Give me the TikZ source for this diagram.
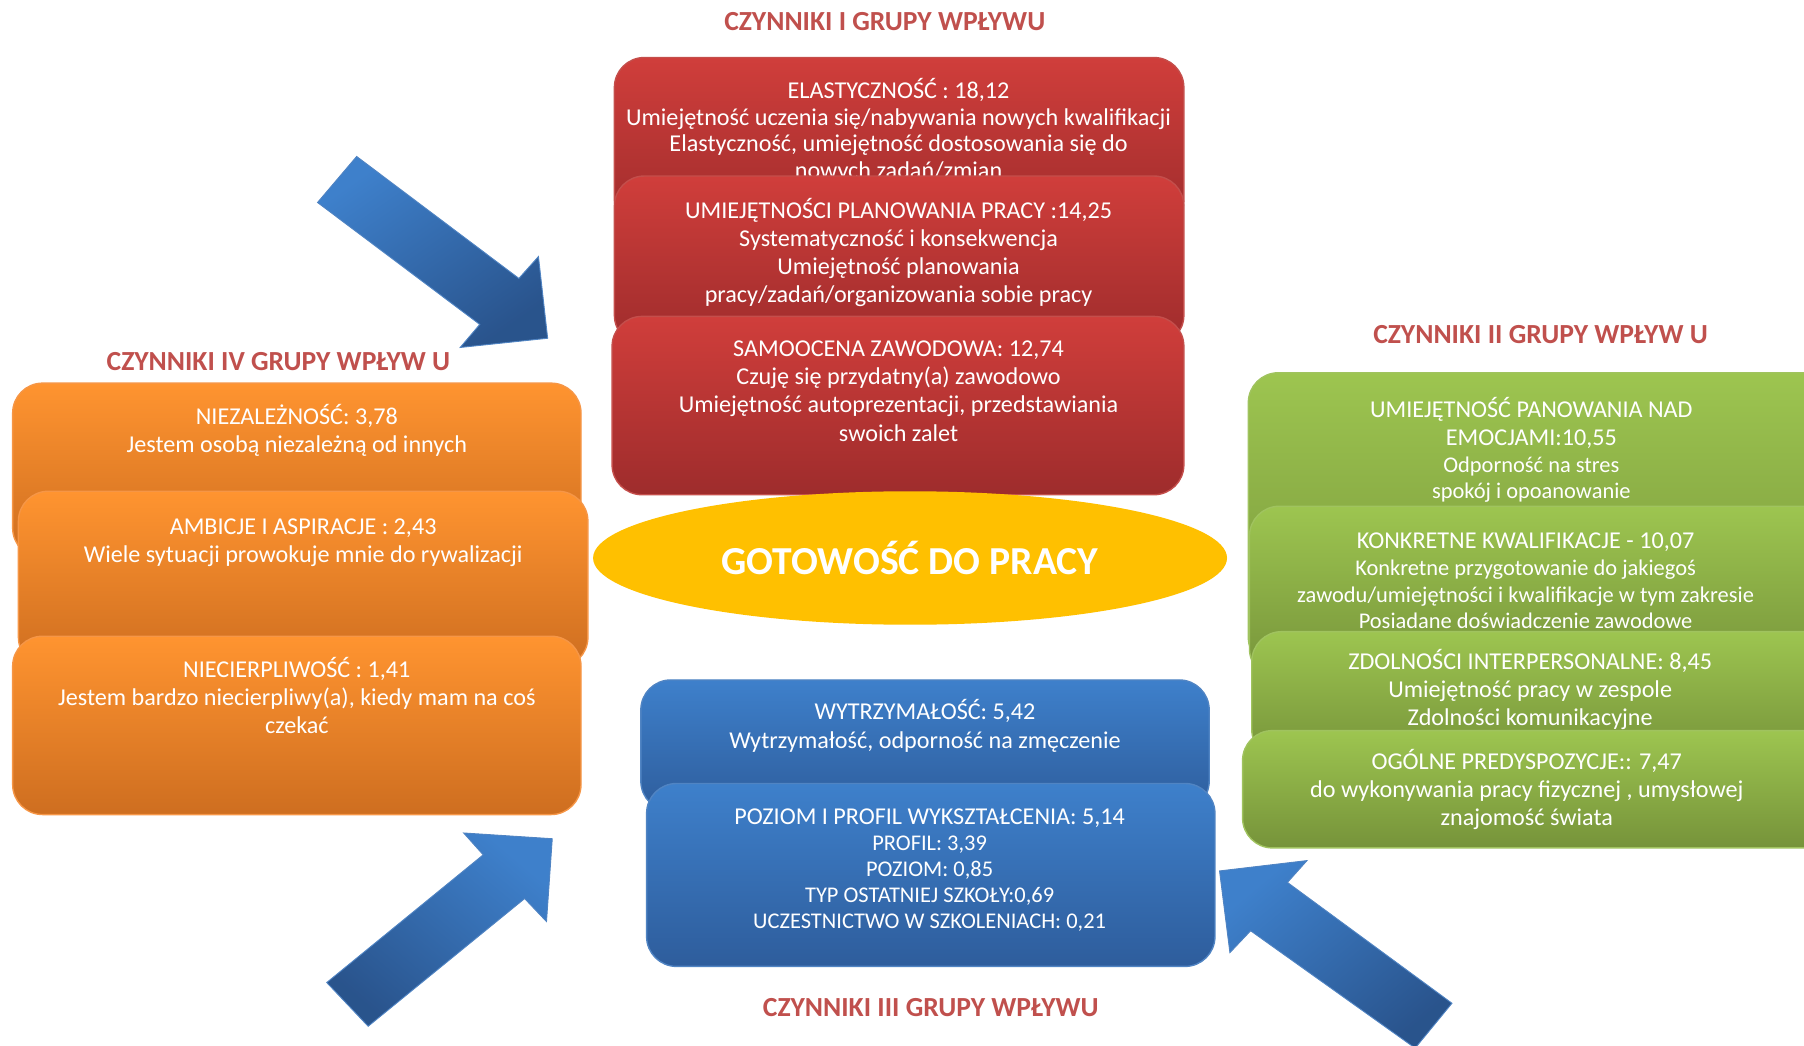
\documentclass[tikz,border=0pt]{standalone}
\usepackage{fontspec}
\setmainfont{Carlito}
\usetikzlibrary{shapes.geometric}
\definecolor{ttl}{RGB}{192,80,77}
\definecolor{redtop}{RGB}{208,62,59}
\definecolor{redbot}{RGB}{158,44,44}
\definecolor{redline}{RGB}{196,78,75}
\definecolor{ortop}{RGB}{255,148,48}
\definecolor{orbot}{RGB}{206,110,32}
\definecolor{orline}{RGB}{246,150,70}
\definecolor{grtop}{RGB}{157,197,80}
\definecolor{grbot}{RGB}{118,147,58}
\definecolor{grline}{RGB}{160,195,95}
\definecolor{bltop}{RGB}{62,128,203}
\definecolor{blbot}{RGB}{46,93,156}
\definecolor{blline}{RGB}{80,132,195}
\definecolor{goal}{RGB}{255,192,0}
\newcommand{\sm}{\fontsize{19.5}{22.5}\selectfont}
\begin{document}
\begin{tikzpicture}[x=1pt,y=-1pt]
\tikzset{box/.style={line width=1.2pt,rounded corners=26pt},
         redbox/.style={box,draw=redline,top color=redtop,bottom color=redbot},
         orbox/.style={box,draw=orline,top color=ortop,bottom color=orbot},
         grbox/.style={box,draw=grline,top color=grtop,bottom color=grbot},
         blbox/.style={box,draw=blline,top color=bltop,bottom color=blbot},
         txt/.style={text=white,align=center,anchor=north,inner sep=0pt,
                     font=\fontsize{21}{24.5}\selectfont,execute at begin node=\strut},
         grouptitle/.style={text=ttl,inner sep=0pt,font=\bfseries\fontsize{24}{26}\selectfont},
         blockarrow/.style={draw=blline,line width=0.8pt,top color=bltop,bottom color=blbot!90!black}}
\useasboundingbox (0,0) rectangle (1568,909);
\clip (0,0) rectangle (1568,909);

% the four arrows pointing at the centre
\draw[blockarrow,shading angle=35] (310,136) -- (451,242) -- (468,223) -- (476,294) -- (400,302) -- (417,282) -- (276,176) -- cycle;
\draw[blockarrow,shading angle=-40] (284,854) -- (420,743) -- (403,724) -- (480,729) -- (475,801) -- (456,781) -- (320,892) -- cycle;
\draw[blockarrow,shading angle=40] (1060,757) -- (1136,748) -- (1119,767) -- (1262,872) -- (1230,911) -- (1087,809) -- (1069,828) -- cycle;

% group titles
\node[grouptitle] (t1) at (769,19) {CZYNNIKI I GRUPY WPŁYWU};
\node[grouptitle] (t2) at (1339,291) {CZYNNIKI II GRUPY WPŁYW U};
\node[grouptitle] (t3) at (809,876) {CZYNNIKI III GRUPY WPŁYWU};
\node[grouptitle] (t4) at (242,314) {CZYNNIKI IV GRUPY WPŁYW U};

% group I, red
\foreach \xa/\xb/\ya/\yb/\yt [count=\i] in {534/1029/50/200/68, 534/1029/153/300/172, 532/1029/275/430/296}
{
    \draw[redbox] (\xa,\ya) rectangle (\xb,\yb);
    \ifcase\i\or
      \node[txt] (red\i) at (781,\yt) {ELASTYCZNOŚĆ : 18,12\\[-1.5pt]Umiejętność uczenia się/nabywania nowych kwalifikacji\\[-1.5pt]Elastyczność, umiejętność dostosowania się do\\[-1.5pt]nowych zadań/zmian};
    \or
      \node[txt] (red\i) at (781,\yt) {UMIEJĘTNOŚCI PLANOWANIA PRACY :14,25\\Systematyczność i konsekwencja\\Umiejętność planowania\\pracy/zadań/organizowania sobie pracy};
    \or
      \node[txt] (red\i) at (781,\yt) {SAMOOCENA ZAWODOWA: 12,74\\Czuję się przydatny(a) zawodowo\\Umiejętność autoprezentacji, przedstawiania\\swoich zalet};
    \fi
}

% group IV, orange
\foreach \xa/\xb/\ya/\yb/\yt/\txt [count=\i] in {
    11/505/333/485/351/{NIEZALEŻNOŚĆ: 3,78\\Jestem osobą niezależną od innych},
    16/511/427/580/451/{AMBICJE I ASPIRACJE : 2,43\\Wiele sytuacji prowokuje mnie do rywalizacji},
    11/505/553/708/571/{NIECIERPLIWOŚĆ : 1,41\\Jestem bardzo niecierpliwy(a), kiedy mam na coś\\czekać}}
{
    \draw[orbox] (\xa,\ya) rectangle (\xb,\yb);
    \node[txt] (or\i) at ({(\xa+\xb)/2},\yt) {\txt};
}

% group II, green
\draw[grbox] (1085,324) rectangle (1600,580);
\node[txt] (gr1) at (1331,345) {UMIEJĘTNOŚĆ PANOWANIA NAD\\EMOCJAMI:10,55\\[-1pt]\sm Odporność na stres\\[-2pt]\sm spokój i opoanowanie};
\draw[grbox] (1086,440) rectangle (1600,590);
\node[txt] (gr2) at (1326,463) {KONKRETNE KWALIFIKACJE - 10,07\\[-1pt]\sm Konkretne przygotowanie do jakiegoś\\[-1.5pt]\sm zawodu/umiejętności i kwalifikacje w tym zakresie\\[-1.5pt]\sm Posiadane doświadczenie zawodowe};
\draw[grbox] (1088,549) rectangle (1600,660);
\node[txt] (gr3) at (1330,564) {ZDOLNOŚCI INTERPERSONALNE: 8,45\\Umiejętność pracy w zespole\\Zdolności komunikacyjne};
\draw[grbox] (1080,635) rectangle (1600,737);
\node[txt] (gr4) at (1327,651) {OGÓLNE PREDYSPOZYCJE:: 7,47\\do wykonywania pracy fizycznej , umysłowej\\znajomość świata};

% group III, blue
\draw[blbox] (557,591) rectangle (1051,705);
\node[txt] (bl1) at (804,608) {WYTRZYMAŁOŚĆ: 5,42\\Wytrzymałość, odporność na zmęczenie};
\draw[blbox] (562,681) rectangle (1056,840);
\node[txt] (bl2) at (808,702.5) {POZIOM I PROFIL WYKSZTAŁCENIA: 5,14\\[-1.5pt]\sm PROFIL: 3,39\\[-2pt]\sm POZIOM: 0,85\\[-2pt]\sm TYP OSTATNIEJ SZKOŁY:0,69\\[-2pt]\sm UCZESTNICTWO W SZKOLENIACH: 0,21};

% the goal in the middle
\node[ellipse,fill=goal,minimum width=551,minimum height=116,inner sep=0pt,
      text=white,font=\bfseries\fontsize{34.5}{38}\selectfont] (goal) at (791,485) {GOTOWOŚĆ DO PRACY};
\end{tikzpicture}
\end{document}
